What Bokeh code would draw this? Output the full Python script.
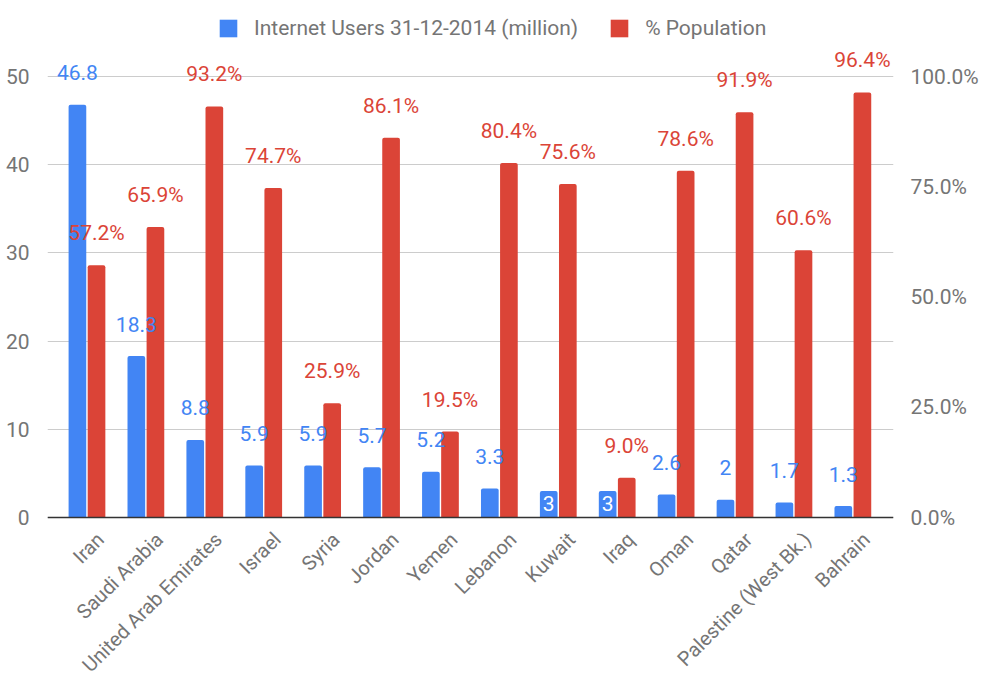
import numpy as np
from bokeh.plotting import figure
from bokeh.models import (Range1d, LinearAxis, FixedTicker, ColumnDataSource,
                          Legend, LegendItem, Span)
from bokeh.core.properties import value
from bokeh.embed import file_html
from bokeh.resources import INLINE

countries = ["Iran", "Saudi Arabia", "United Arab Emirates", "Israel", "Syria",
             "Jordan", "Yemen", "Lebanon", "Kuwait", "Iraq", "Oman", "Qatar",
             "Palestine (West Bk.)", "Bahrain"]
users = [46.8, 18.3, 8.8, 5.9, 5.9, 5.7, 5.2, 3.3, 3, 3, 2.6, 2, 1.7, 1.3]
pct = [57.2, 65.9, 93.2, 74.7, 25.9, 86.1, 19.5, 80.4, 75.6, 9.0, 78.6, 91.9, 60.6, 96.4]
users_labels = ["46.8", "18.3", "8.8", "5.9", "5.9", "5.7", "5.2", "3.3", "3", "3",
                "2.6", "2", "1.7", "1.3"]
pct_labels = [f"{v:.1f}%" for v in pct]
left_ticks = [0, 10, 20, 30, 40, 50]
right_ticks = [0, 25, 50, 75, 100]
series_names = ["Internet Users 31-12-2014 (million)", "% Population"]

BLUE = "#4285F4"
RED = "#DB4437"
GREY = "#757575"
FONT = "Roboto"
FS = "21px"
FS_CAT = "20px"

inside_labels = {"Kuwait", "Iraq"}

xs = np.arange(len(countries))
off = 0.162
bw = 0.30

src = ColumnDataSource(dict(
    x=xs, xb=xs - off, xr=xs + off, users=users, pct=pct,
    ul=users_labels, pl=pct_labels, zero=[0] * len(xs), name=countries,
))

# frame spans the whole canvas height; only y in [0, 50] carries grid/ticks
PX_PER_UNIT = 8.82
y_top = 517 / PX_PER_UNIT
y_bot = -(678 - 517) / PX_PER_UNIT

p = figure(width=981, height=678, output_backend="svg", toolbar_location=None,
           x_range=Range1d(-0.67, 13.69), y_range=Range1d(y_bot, y_top),
           min_border_left=47, min_border_right=80, min_border_top=0,
           min_border_bottom=0)
p.extra_y_ranges = {"pct": Range1d(2 * y_bot, 2 * y_top)}
p.outline_line_color = None
p.background_fill_color = "white"
p.border_fill_color = "white"

rb = p.vbar(x="xb", top="users", bottom=0, width=bw, source=src, fill_color=BLUE,
            line_color=None, border_radius=(2, 2, 0, 0))
rr = p.vbar(x="xr", top="pct", bottom=0, width=bw, source=src, fill_color=RED,
            line_color=None, border_radius=(2, 2, 0, 0), y_range_name="pct")

# value labels
out_idx = [i for i, c in enumerate(countries) if c not in inside_labels]
in_idx = [i for i, c in enumerate(countries) if c in inside_labels]
src_out = ColumnDataSource(dict(x=[xs[i] - off for i in out_idx],
                                y=[users[i] for i in out_idx],
                                t=[users_labels[i] for i in out_idx]))
src_in = ColumnDataSource(dict(x=[xs[i] - off for i in in_idx],
                               y=[users[i] for i in in_idx],
                               t=[users_labels[i] for i in in_idx]))
p.text(x="x", y="y", text="t", source=src_out, y_offset=-32,
       text_align="center", text_baseline="middle", text_color=BLUE,
       text_font=value(FONT), text_font_size=FS)
p.text(x="x", y="y", text="t", source=src_in, y_offset=12,
       text_align="center", text_baseline="middle", text_color="white",
       text_font=value(FONT), text_font_size=FS)
p.text(x="xr", y="pct", text="pl", source=src, y_offset=-32, y_range_name="pct",
       text_align="center", text_baseline="middle", text_color=RED,
       text_font=value(FONT), text_font_size=FS)

# category labels, rotated 45 degrees, anchored at their top-right corner
p.text(x="x", y="zero", text="name", source=src, x_offset=5, y_offset=10,
       angle=np.pi / 4, text_align="right", text_baseline="top",
       text_color=GREY, text_font=value(FONT), text_font_size=FS_CAT)

p.xaxis.visible = False

p.yaxis.ticker = FixedTicker(ticks=left_ticks)
p.yaxis.axis_line_color = None
p.yaxis.major_tick_line_color = None
p.yaxis.minor_tick_line_color = None
p.yaxis.major_label_text_font = FONT
p.yaxis.major_label_text_font_size = FS
p.yaxis.major_label_text_color = GREY
p.yaxis.major_label_standoff = 12

ra = LinearAxis(y_range_name="pct", ticker=FixedTicker(ticks=right_ticks))
ra.major_label_overrides = {t: f"{t:.1f}%" for t in right_ticks}
ra.axis_line_color = None
ra.major_tick_line_color = None
ra.minor_tick_line_color = None
ra.major_label_text_font = FONT
ra.major_label_text_font_size = FS
ra.major_label_text_color = GREY
ra.major_label_standoff = 11
p.add_layout(ra, "right")

p.xgrid.grid_line_color = None
p.ygrid.grid_line_color = "#cccccc"
p.ygrid.grid_line_width = 1

p.add_layout(Span(location=0, dimension="width", line_color="#333333", line_width=1.5))

legend = Legend(items=[LegendItem(label=series_names[0], renderers=[rb]),
                       LegendItem(label=series_names[1], renderers=[rr])],
                location=(170, 678 - 40), orientation="horizontal",
                glyph_width=22, glyph_height=22, label_height=22,
                label_standoff=15, spacing=30, padding=0, margin=0,
                label_text_font=FONT, label_text_font_size=FS,
                label_text_color=GREY, background_fill_alpha=0,
                border_line_color=None)
p.add_layout(legend)

open("out.html", "w").write(file_html(p, INLINE))
